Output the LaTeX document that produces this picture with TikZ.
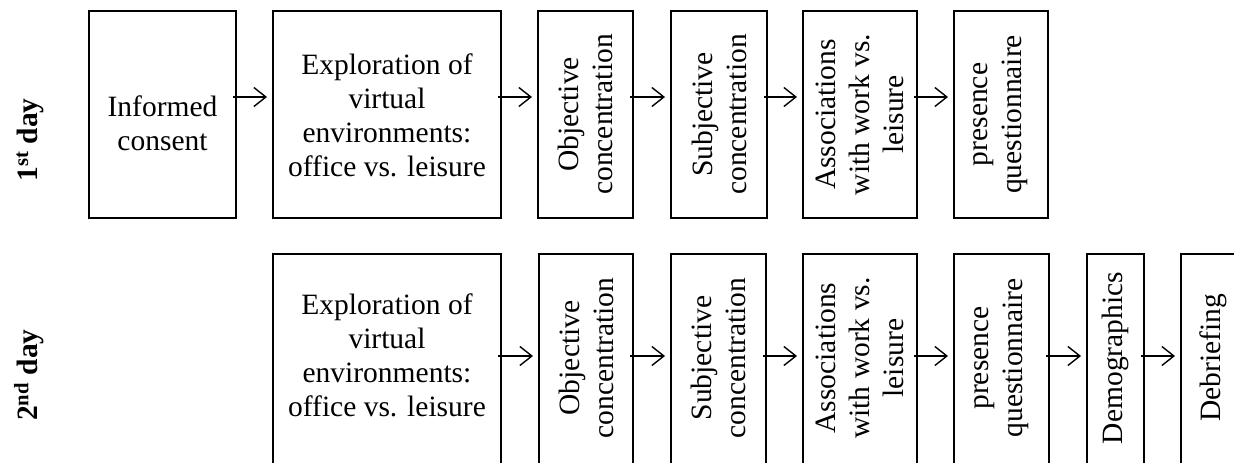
\documentclass[tikz,border=0pt]{standalone}
\usepackage{fontspec}
\setmainfont{Liberation Serif}
\usetikzlibrary{arrows.meta}
\newcommand\mkbox[5]{\node[box,minimum width={#3-#2},minimum height={#5-#4}] (#1) at ({(#2+#3)/2},{(#4+#5)/2}) {};}
\begin{document}
\begin{tikzpicture}[x=1pt,y=-1pt,
  box/.style={draw,line width=2.2pt,inner sep=0pt,outer sep=0pt},
  txt/.style={align=center,font=\fontsize{29.5}{34}\selectfont,inner sep=0pt},
  vtxt/.style={txt,rotate=90},
  daylbl/.style={txt,rotate=90,font=\fontsize{29.5}{34}\selectfont\bfseries},
  arr/.style={line width=1.4pt,-{Straight Barb[length=12pt,width=19pt,line width=1.4pt]},shorten <=-3pt,shorten >=6pt}]
\clip (0,0) rectangle (1234,463);
\fill[white] (0,0) rectangle (1234,463);
\coordinate (r1) at (0,97);
\coordinate (r2) at (0,356);
% day labels
\node[daylbl] (d1) at (30,140) {1\textsuperscript{st} day};
\node[daylbl] (d2) at (29,375) {2\textsuperscript{nd} day};
% row 1
\mkbox{inf}{89}{236}{11}{218}
\mkbox{exp1}{273}{501}{11}{218}
\mkbox{obj1}{538}{633}{11}{218}
\mkbox{sub1}{671}{767}{11}{218}
\mkbox{ass1}{803}{917}{11}{218}
\mkbox{pre1}{954}{1048}{11}{218}
\node[txt] (tinf) at ([yshift=-9pt]inf.center) {Informed\\consent};
\node[txt] (texp1) at ([yshift=-1pt]exp1.center) {Exploration of\\virtual\\environments:\\office vs. leisure};
\node[vtxt] (tobj1) at (obj1) {Objective\\concentration};
\node[vtxt] (tsub1) at (sub1) {Subjective\\concentration};
\node[vtxt] (tass1) at (ass1) {Associations\\with work vs.\\leisure};
\node[vtxt] (tpre1) at (pre1) {presence\\questionnaire};
\draw[arr] (inf.east |- r1) -- (exp1.west |- r1);
\draw[arr] (exp1.east |- r1) -- (obj1.west |- r1);
\draw[arr] (obj1.east |- r1) -- (sub1.west |- r1);
\draw[arr] (sub1.east |- r1) -- (ass1.west |- r1);
\draw[arr] (ass1.east |- r1) -- (pre1.west |- r1);
% row 2 (boxes run past the lower edge of the picture)
\mkbox{exp2}{273}{501}{254}{468}
\mkbox{obj2}{539}{633}{254}{468}
\mkbox{sub2}{671}{766}{254}{468}
\mkbox{ass2}{803}{917}{254}{468}
\mkbox{pre2}{954}{1049}{254}{468}
\mkbox{dem2}{1087}{1144}{254}{468}
\mkbox{deb2}{1181}{1245}{254}{468}
\node[txt] (texp2) at (273+114,355) {Exploration of\\virtual\\environments:\\office vs. leisure};
\node[vtxt] (tobj2) at (586,358) {Objective\\concentration};
\node[vtxt] (tsub2) at (718.5,358) {Subjective\\concentration};
\node[vtxt] (tass2) at (860,358) {Associations\\with work vs.\\leisure};
\node[vtxt] (tpre2) at (1001.5,358) {presence\\questionnaire};
\node[vtxt] (tdem2) at (1115.5,358) {Demographics};
\node[vtxt] (tdeb2) at (1213,358) {Debriefing};
\draw[arr] (exp2.east |- r2) -- (obj2.west |- r2);
\draw[arr] (obj2.east |- r2) -- (sub2.west |- r2);
\draw[arr] (sub2.east |- r2) -- (ass2.west |- r2);
\draw[arr] (ass2.east |- r2) -- (pre2.west |- r2);
\draw[arr] (pre2.east |- r2) -- (dem2.west |- r2);
\draw[arr] (dem2.east |- r2) -- (deb2.west |- r2);
\end{tikzpicture}
\end{document}
